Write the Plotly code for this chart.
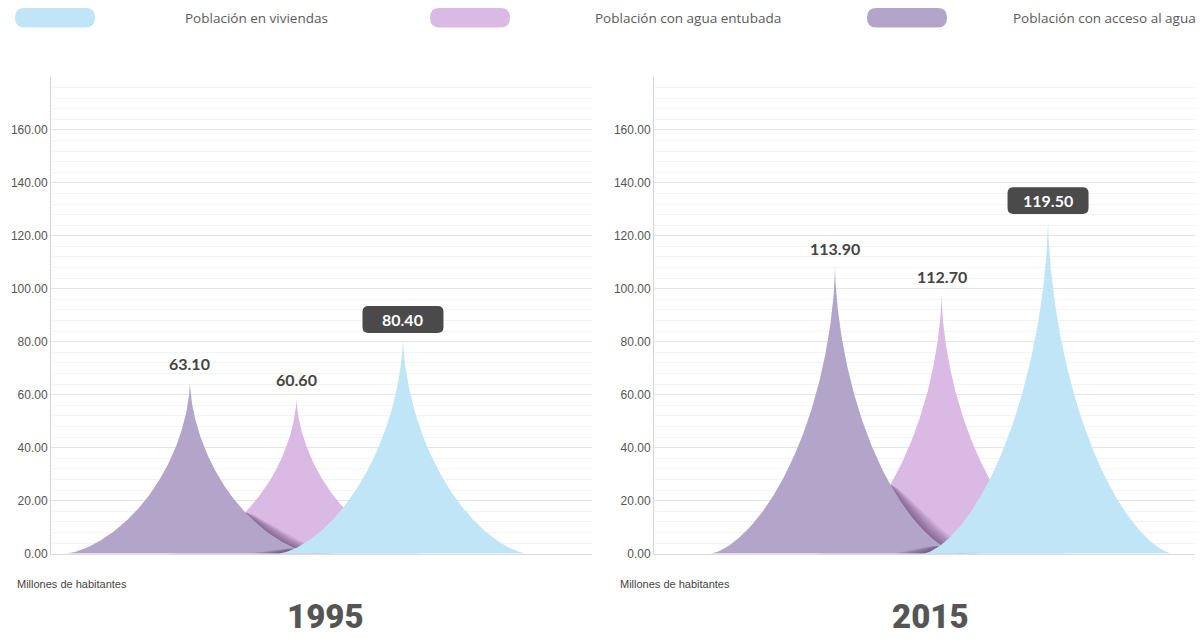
import numpy as np
import plotly.graph_objects as go

# ---------------- data ----------------
# series in left-to-right order inside each panel
categories = ["Población con acceso al agua", "Población con agua entubada", "Población en viviendas"]
colors = ["#B3A4CA", "#DBB9E5", "#C0E5F7"]
years = ["1995", "2015"]

# values printed on the chart
labels_1995 = [63.10, 60.60, 80.40]
labels_2015 = [113.90, 112.70, 119.50]
# spike heights as drawn in the picture (axis units)
peaks_1995 = [64.8, 58.8, 81.6]
peaks_2015 = [108.4, 97.9, 126.5]

y_ticks = [0, 20, 40, 60, 80, 100, 120, 140, 160]
unit_label = "Millones de habitantes"

# ---------------- layout constants ----------------
FW, FH = 1200, 639
FH_EFF = 633.0   # rendered vertical scale observed in the output
X_DOMAINS = [[51 / FW, 592 / FW], [654 / FW, 1195 / FW]]
X_RANGES = [[-1.305, 3.775], [-1.70, 3.38]]


def py(px):
    """paper y for a target pixel row"""
    return 1 - px / FH_EFF


Y_DOMAIN = [py(554.5), py(77)]
Y_RANGE = [0, 180]
W = 1.17          # half base width of a spike, in x units
A_EXP, B_EXP = 0.6, 1.5
Z_ORDER = [1, 0, 2]  # back -> front
SHADOW = "rgba(60,30,75,{a})"


def half_width(y, h):
    f = np.clip(y / h, 0, 1)
    return W * (1 - f ** (1 / B_EXP)) ** (1 / A_EXP)


def spike(c, h, n=400):
    y = np.linspace(0, h, n)
    d = half_width(y, h)
    return np.concatenate([c - d, (c + d)[::-1]]), np.concatenate([y, y[::-1]])


def band(y, lo, hi):
    ok = hi > lo + 1e-9
    if ok.sum() < 2:
        return None
    y2, lo2, hi2 = y[ok], lo[ok], hi[ok]
    return np.concatenate([lo2, hi2[::-1]]), np.concatenate([y2, y2[::-1]])


def rounded(x0, x1, y0, y1, rx, ry):
    return (f"M{x0+rx},{y0} L{x1-rx},{y0} Q{x1},{y0} {x1},{y0+ry} L{x1},{y1-ry} "
            f"Q{x1},{y1} {x1-rx},{y1} L{x0+rx},{y1} Q{x0},{y1} {x0},{y1-ry} "
            f"L{x0},{y0+ry} Q{x0},{y0} {x0+rx},{y0} Z")


fig = go.Figure()
shapes, annotations = [], []
tick_font = dict(family="Liberation Sans, Arial", size=12, color="#555")
N_SH, STEP, ALPHA = 7, 0.032, 0.09

for p, (year, labels, peaks) in enumerate(zip(years, [labels_1995, labels_2015], [peaks_1995, peaks_2015])):
    xa = "x" if p == 0 else "x2"
    ya = "y" if p == 0 else "y2"
    centers = list(range(len(categories)))

    def add_poly(xs, ys, color):
        fig.add_trace(go.Scatter(x=xs, y=ys, mode="lines", fill="toself", fillcolor=color,
                                 line=dict(width=0, color=color), hoverinfo="skip",
                                 showlegend=False, xaxis=xa, yaxis=ya))

    for i in Z_ORDER:
        xs, ys = spike(centers[i], peaks[i])
        add_poly(xs, ys, colors[i])
        if i == 1:
            # soft shadow of spike 0 cast on spike 1 along their boundary
            top = min(peaks[0], peaks[1])
            yy = np.linspace(0, top, 500)
            pr = centers[0] + half_width(yy, peaks[0])
            kl = centers[1] - half_width(yy, peaks[1])
            kr = centers[1] + half_width(yy, peaks[1])
            valid = pr >= kl
            ycross = yy[valid].max() if valid.any() else 0
            taper = np.clip((ycross - yy) / max(ycross, 1e-6), 0, 1) ** 0.5
            for k in range(1, N_SH + 1):
                hi = np.minimum(pr + STEP * k * taper, kr)
                hi = np.where(valid, hi, pr)
                b = band(yy, pr, hi)
                if b:
                    add_poly(b[0], b[1], SHADOW.format(a=ALPHA))
        if i == 0:
            # soft shadow of spike 2 cast on spike 0
            top = min(peaks[0], peaks[2])
            yy = np.linspace(0, top, 500)
            bl = centers[2] - half_width(yy, peaks[2])
            pl = centers[0] - half_width(yy, peaks[0])
            prr = centers[0] + half_width(yy, peaks[0])
            valid = bl <= prr
            ycross = yy[valid].max() if valid.any() else 0
            taper = np.clip((ycross - yy) / max(ycross, 1e-6), 0, 1) ** 0.5
            for k in range(1, N_SH + 1):
                lo = np.maximum(bl - STEP * 1.3 * k * taper, pl)
                hi = np.where(valid, bl, lo)
                b = band(yy, lo, hi)
                if b:
                    add_poly(b[0], b[1], SHADOW.format(a=ALPHA))

    px_x = (X_DOMAINS[p][1] - X_DOMAINS[p][0]) * FW / (X_RANGES[p][1] - X_RANGES[p][0])
    px_y = (Y_DOMAIN[1] - Y_DOMAIN[0]) * FH_EFF / (Y_RANGE[1] - Y_RANGE[0])
    imax = int(np.argmax(labels))
    for i in range(len(categories)):
        if i == imax:
            cy = peaks[i] + 18 / px_y
            hw, hh = 40.5 / px_x, 13.5 / px_y
            shapes.append(dict(type="path", xref=xa, yref=ya,
                               path=rounded(centers[i] - hw, centers[i] + hw, cy - hh, cy + hh,
                                            6 / px_x, 6 / px_y),
                               fillcolor="#4a4a4a", line=dict(width=0), layer="above"))
            col = "white"
        else:
            col = "#444"
        annotations.append(dict(x=centers[i], y=peaks[i], xref=xa, yref=ya, yshift=18,
                                text=f"{labels[i]:.2f}", showarrow=False,
                                font=dict(family="Lato, Inter", size=16, color=col, weight="bold")))

    # unit label and year title
    annotations.append(dict(x=(15 if p == 0 else 618) / FW, y=py(585), xref="paper", yref="paper",
                            xanchor="left", yanchor="middle", text=unit_label, showarrow=False,
                            font=dict(family="Liberation Sans, Arial", size=11, color="#444")))
    annotations.append(dict(x=(325 if p == 0 else 930) / FW, y=py(617), xref="paper", yref="paper",
                            xanchor="center", yanchor="middle", text=year, showarrow=False,
                            borderpad=0,
                            font=dict(family="Roboto", size=33, color="#555", weight=900)))

# legend (pills + text) built from series, in reverse order
pill_x = [15, 430, 867]
text_x = [183, 593, 1011]
for j, i in enumerate(reversed(range(len(categories)))):
    x0, x1 = pill_x[j] / FW, (pill_x[j] + 80) / FW
    y0, y1 = py(27.5), py(8)
    shapes.append(dict(type="path", xref="paper", yref="paper",
                       path=rounded(x0, x1, y0, y1, 9.5 / FW, 9.5 / FH_EFF),
                       fillcolor=colors[i], line=dict(width=0)))
    annotations.append(dict(x=text_x[j] / FW, y=py(18), xref="paper", yref="paper",
                            xanchor="left", yanchor="middle", text=categories[i], showarrow=False,
                            font=dict(family="Open Sans", size=13.5, color="#5a5a5a")))

yaxis_common = dict(range=Y_RANGE, domain=Y_DOMAIN, tickvals=y_ticks, tickformat=".2f",
                    showgrid=True, gridcolor="#e4e4e4", gridwidth=1, zeroline=False,
                    showline=True, linecolor="#d6d6d6", linewidth=1, ticks="",
                    tickfont=tick_font, fixedrange=True,
                    minor=dict(dtick=4, showgrid=True, gridcolor="#f3f3f3", gridwidth=1, ticks=""))
xaxis_common = dict(showgrid=False, zeroline=False, showticklabels=False, ticks="",
                    showline=True, linecolor="#dcdcdc", linewidth=1, fixedrange=True)

fig.update_layout(
    width=FW, height=FH, margin=dict(l=0, r=0, t=0, b=0),
    paper_bgcolor="white", plot_bgcolor="white", showlegend=False,
    xaxis=dict(domain=X_DOMAINS[0], range=X_RANGES[0], anchor="y", **xaxis_common),
    xaxis2=dict(domain=X_DOMAINS[1], range=X_RANGES[1], anchor="y2", **xaxis_common),
    yaxis=dict(anchor="x", **yaxis_common),
    yaxis2=dict(anchor="x2", **yaxis_common),
    shapes=shapes, annotations=annotations,
)

fig.write_html("out.html")
